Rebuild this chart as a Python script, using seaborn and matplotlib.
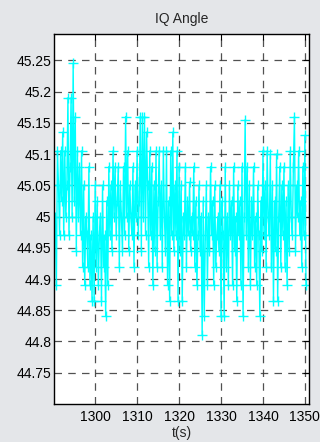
import numpy as np
import pandas as pd
import matplotlib
matplotlib.use("Agg")
import matplotlib.pyplot as plt
import seaborn as sns

title = "IQ Angle"
xlabel = "t(s)"
xticks = [1300, 1310, 1320, 1330, 1340, 1350]
yticks = [44.75, 44.8, 44.85, 44.9, 44.95, 45.0, 45.05, 45.1, 45.15, 45.2, 45.25]
ytick_labels = ["44.75", "44.8", "44.85", "44.9", "44.95", "45", "45.05", "45.1", "45.15", "45.2", "45.25"]

t_start = 1290.5
t_step = 0.25
angle = [
    45.0, 44.89, 45.105, 45.05, 44.97, 45.105, 45.025, 45.135, 44.97, 45.105, 45.0, 45.05,
    45.19, 44.97, 45.08, 45.19, 45.0, 45.245, 45.025, 45.16, 44.945, 45.105, 45.0, 45.08,
    44.97, 45.105, 44.92, 45.05, 44.89, 45.0, 44.97, 44.92, 45.08, 44.89, 44.97, 44.865,
    45.0, 44.865, 45.05, 44.92, 45.025, 44.89, 44.97, 45.0, 44.865, 45.05, 44.92, 44.97,
    44.84, 45.025, 44.89, 45.08, 44.97, 45.05, 44.945, 45.105, 45.0, 45.08, 44.97, 45.025,
    45.08, 44.92, 45.05, 45.0, 44.945, 45.08, 44.97, 45.16, 45.0, 45.105, 44.945, 45.05,
    45.0, 44.97, 45.08, 44.92, 45.05, 45.0, 45.105, 44.97, 45.025, 45.16, 44.945, 45.16,
    45.0, 45.16, 44.97, 45.135, 45.05, 44.92, 45.105, 44.97, 45.08, 44.89, 45.05, 44.945,
    45.105, 44.92, 45.025, 45.105, 44.97, 45.05, 44.92, 45.105, 45.0, 44.945, 45.105, 44.89,
    45.025, 44.865, 45.105, 44.97, 45.135, 44.945, 45.05, 44.97, 45.105, 44.865, 45.08, 44.945,
    45.05, 44.865, 45.0, 44.97, 45.08, 44.92, 45.025, 44.97, 45.055, 44.945, 45.0, 44.97,
    45.08, 44.92, 45.025, 44.89, 44.97, 45.05, 44.945, 45.0, 44.81, 45.025, 44.84, 44.97,
    45.05, 44.89, 45.0, 44.945, 45.08, 44.97, 45.025, 44.89, 45.05, 44.92, 44.97, 45.0,
    44.945, 45.05, 44.84, 45.025, 44.97, 44.84, 45.08, 44.92, 45.0, 44.89, 45.05, 44.97,
    45.025, 44.89, 45.08, 44.945, 45.0, 44.865, 45.05, 44.97, 45.025, 44.89, 45.08, 44.84,
    45.0, 45.155, 44.97, 45.08, 44.92, 45.05, 44.89, 45.025, 44.97, 45.08, 44.92, 45.0,
    44.89, 45.05, 44.97, 44.84, 45.025, 44.945, 45.105, 44.97, 45.05, 44.92, 45.105, 45.0,
    44.97, 45.1, 44.92, 45.05, 44.865, 45.025, 44.945, 45.1, 44.865, 45.0, 45.08, 44.92,
    45.05, 44.97, 45.08, 44.92, 45.025, 44.89, 45.05, 44.945, 45.105, 45.0, 44.97, 45.08,
    45.16, 44.945, 45.05, 45.0, 45.105, 44.97, 45.025, 44.92, 45.08, 44.97, 45.13, 44.89,
]
t = [t_start + t_step * i for i in range(len(angle))]
df = pd.DataFrame({"t": t, "angle": angle})

sns.set_style("white")
plt.rcParams["font.family"] = ["Liberation Sans", "DejaVu Sans"]

fig = plt.figure(figsize=(3.2, 4.42), dpi=100, facecolor="#e4e6e9")
ax = fig.add_axes([0.169, 0.086, 0.797, 0.837])
ax.set_facecolor("white")

sns.lineplot(data=df, x="t", y="angle", ax=ax, color="#00FFFF", linewidth=1.0,
             marker="+", markersize=7, markeredgewidth=1.0, markeredgecolor="#00FFFF",
             estimator=None, sort=False)

ax.set_xlim(1290.2, 1351.0)
ax.set_ylim(44.70, 45.292)
ax.set_xticks(xticks)
ax.set_xticklabels([str(v) for v in xticks])
ax.set_yticks(yticks)
ax.set_yticklabels(ytick_labels)
ax.grid(True, color="#333333", linestyle=(0, (6, 5)), linewidth=0.9, alpha=0.85)
ax.set_axisbelow(True)
for s in ax.spines.values():
    s.set_visible(True)
    s.set_color("black")
    s.set_linewidth(1.0)
ax.tick_params(direction="in", length=4, width=0.8, top=True, right=True,
               labelsize=10, colors="black", pad=2)
ax.tick_params(axis="x", pad=4)
ax.set_title(title, fontsize=10, pad=8)
ax.set_xlabel(xlabel, fontsize=10, labelpad=2)
ax.set_ylabel("")

fig.savefig("out.png", dpi=100, facecolor=fig.get_facecolor())
